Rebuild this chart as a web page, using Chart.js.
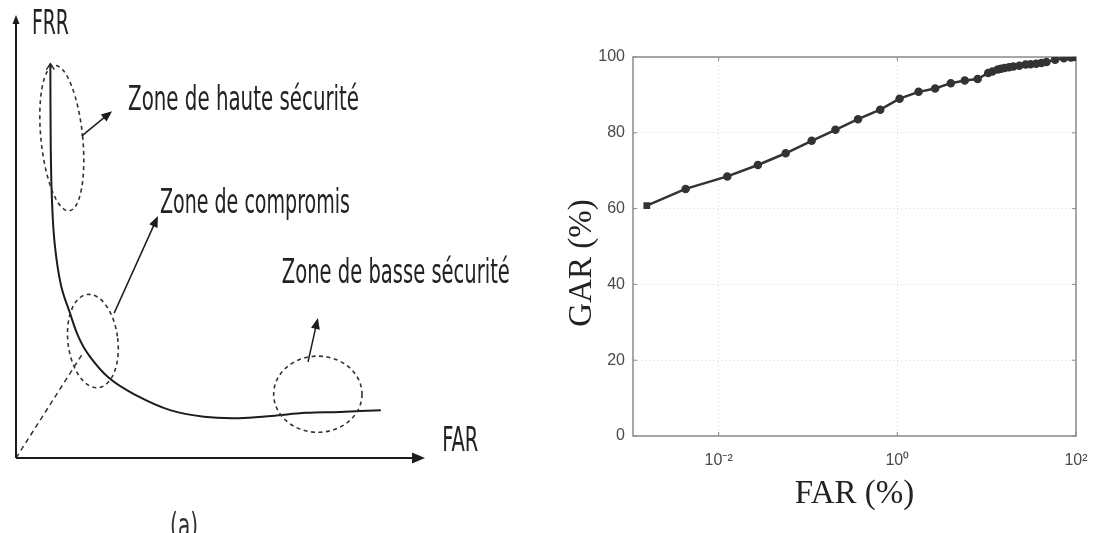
<!DOCTYPE html>
<html lang="fr">
<head>
<meta charset="UTF-8">
<title>FRR / FAR - GAR</title>
<style>
  body { margin: 0; background: #fff; width: 1097px; height: 533px; overflow: hidden; position: relative; }
  #schema { position: absolute; left: 0; top: 0; }
  #roc { position: absolute; left: 540px; top: 0; }
</style>
</head>
<body>
<canvas id="schema" width="540" height="533"></canvas>
<canvas id="roc" width="557" height="533"></canvas>

<script src="https://cdn.jsdelivr.net/npm/chart.js"></script>
<script>
// (a) schéma FRR en fonction du FAR, unités arbitraires 0..100
const curveFar = [8.4, 8.5, 8.8, 9.5, 11, 13.2, 15.2, 17.6, 22.7, 29.3, 37.7, 46, 54.3, 62.6, 70.9, 79.2, 89.2];
const curveFrr = [89, 70, 58, 48, 39, 32.7, 27.5, 23.5, 18.1, 14.2, 10.8, 9.3, 9.0, 9.5, 10.2, 10.4, 10.8];
const diagFar = [0, 16.1];
const diagFrr = [0, 23.3];

// zones : ellipse pointillée, flèche et libellé (mêmes unités)
const zoneNames = ['Zone de haute sécurité', 'Zone de compromis', 'Zone de basse sécurité'];
const zoneCenter = [[11.2, 72.2], [18.8, 26.4], [73.8, 14.4]];
const zoneRadius = [[5.1, 16.5], [6.1, 10.6], [10.8, 8.6]];
const zoneArrowFrom = [[16.1, 72.7], [24.0, 32.7], [71.4, 21.7]];
const zoneArrowTo = [[23.5, 78.3], [34.7, 54.6], [73.8, 31.6]];
const zoneLabelAt = [[27.4, 80.6], [35.2, 57.3], [65.0, 41.5]];

// (b) courbe GAR / FAR (%)
const farPct = [0.00157, 0.00427, 0.0125, 0.0275, 0.0563, 0.110, 0.203, 0.363, 0.644, 1.06, 1.73, 2.65,
                3.97, 5.69, 7.93, 10.4, 11.6, 13.3, 14.5, 15.9, 17.8, 19.9, 23.2, 27.3, 31.0, 35.7,
                41.0, 46.7, 58.4, 73.1, 87.5, 93.0, 100];
const garPct = [60.8, 65.2, 68.5, 71.5, 74.6, 77.9, 80.8, 83.6, 86.1, 89.0, 90.8, 91.7,
                93.1, 93.8, 94.2, 95.8, 96.2, 96.7, 96.9, 97.1, 97.3, 97.5, 97.7, 98.0, 98.1, 98.2,
                98.4, 98.7, 99.3, 99.7, 99.9, 100, 100];
const garTicks = [0, 20, 40, 60, 80, 100];
const farTicks = [0.01, 1, 100];
const farTickLabels = ['10⁻²', '10⁰', '10²'];

const ink = '#1c1c1c';
const handFont = '"DejaVu Sans Condensed", "DejaVu Sans", sans-serif';

function arrowHead(ctx, x, y, ang, len, half) {
    const c = Math.cos(ang), s = Math.sin(ang);
    ctx.beginPath();
    ctx.moveTo(x, y);
    ctx.lineTo(x - len * c + half * s, y - len * s - half * c);
    ctx.lineTo(x - len * c - half * s, y - len * s + half * c);
    ctx.closePath();
    ctx.fill();
}

const schemaDecor = {
    id: 'schemaDecor',
    afterDraw(chart) {
        const { ctx, scales: { x, y } } = chart;
        const px = v => x.getPixelForValue(v);
        const py = v => y.getPixelForValue(v);
        ctx.save();
        ctx.strokeStyle = ink;
        ctx.fillStyle = ink;

        // axes avec flèches
        ctx.lineWidth = 2;
        ctx.beginPath();
        ctx.moveTo(px(0), py(0));
        ctx.lineTo(px(100) - 8, py(0));
        ctx.moveTo(px(0), py(0));
        ctx.lineTo(px(0), py(100) + 6);
        ctx.stroke();
        arrowHead(ctx, px(100), py(0), 0, 13, 5.5);
        arrowHead(ctx, px(0), py(100), -Math.PI / 2, 9, 3.5);

        // petite pointe en haut de la courbe
        ctx.lineWidth = 1.3;
        ctx.beginPath();
        ctx.moveTo(px(curveFar[0]) - 4, py(curveFrr[0]) + 6);
        ctx.lineTo(px(curveFar[0]), py(curveFrr[0]));
        ctx.lineTo(px(curveFar[0]) + 4, py(curveFrr[0]) + 6);
        ctx.stroke();

        // ellipses pointillées
        ctx.lineWidth = 1.6;
        ctx.strokeStyle = '#333';
        ctx.setLineDash([4, 3.5]);
        const tilt = [-0.1, -0.12, 0];
        zoneCenter.forEach((c, i) => {
            const rx = px(c[0] + zoneRadius[i][0]) - px(c[0]);
            const ry = py(c[1]) - py(c[1] + zoneRadius[i][1]);
            ctx.beginPath();
            ctx.ellipse(px(c[0]), py(c[1]), rx, ry, tilt[i], 0, Math.PI * 2);
            ctx.stroke();
        });
        ctx.setLineDash([]);

        // flèches vers les libellés
        ctx.strokeStyle = ink;
        ctx.lineWidth = 1.5;
        zoneArrowFrom.forEach((f, i) => {
            const t = zoneArrowTo[i];
            const x0 = px(f[0]), y0 = py(f[1]), x1 = px(t[0]), y1 = py(t[1]);
            const ang = Math.atan2(y1 - y0, x1 - x0);
            ctx.beginPath();
            ctx.moveTo(x0, y0);
            ctx.lineTo(x1 - 6 * Math.cos(ang), y1 - 6 * Math.sin(ang));
            ctx.stroke();
            arrowHead(ctx, x1, y1, ang, 11, 4.5);
        });

        // textes
        ctx.fillStyle = '#222';
        ctx.textBaseline = 'middle';
        ctx.textAlign = 'left';
        ctx.font = '33px ' + handFont;
        const widths = [231, 190, 228];
        zoneNames.forEach((name, i) => {
            ctx.fillText(name, px(zoneLabelAt[i][0]), py(zoneLabelAt[i][1]), widths[i]);
        });
        ctx.fillText('FRR', px(3.9), py(97.7), 37);
        ctx.fillText('FAR', px(104.2), py(3.6), 36);
        ctx.textAlign = 'center';
        ctx.textBaseline = 'alphabetic';
        ctx.fillStyle = '#333';
        ctx.fillText('(a)', px(41.1), py(-17.8), 28);
        ctx.restore();
    }
};

new Chart(document.getElementById('schema'), {
    type: 'scatter',
    data: {
        datasets: [{
            data: curveFar.map((v, i) => ({ x: v, y: curveFrr[i] })),
            showLine: true,
            tension: 0.4,
            borderColor: ink,
            borderWidth: 2,
            pointRadius: 0
        }, {
            data: diagFar.map((v, i) => ({ x: v, y: diagFrr[i] })),
            showLine: true,
            borderColor: '#333',
            borderWidth: 1.5,
            borderDash: [5, 4],
            pointRadius: 0
        }]
    },
    options: {
        responsive: false,
        animation: false,
        events: [],
        layout: { padding: { left: 16, right: 115, top: 15, bottom: 75 } },
        plugins: { legend: { display: false }, tooltip: { enabled: false } },
        scales: {
            x: { type: 'linear', min: 0, max: 100, display: false },
            y: { type: 'linear', min: 0, max: 100, display: false }
        }
    },
    plugins: [schemaDecor]
});

// cadre et graduations intérieures façon MATLAB
const matlabBox = {
    id: 'matlabBox',
    beforeDatasetsDraw(chart) {
        const { ctx, chartArea: a, scales: { x, y } } = chart;
        ctx.save();
        ctx.strokeStyle = '#8a8a8a';
        ctx.lineWidth = 1.5;
        ctx.strokeRect(a.left, a.top, a.right - a.left, a.bottom - a.top);
        ctx.lineWidth = 1;
        ctx.beginPath();
        garTicks.forEach(v => {
            const p = y.getPixelForValue(v);
            ctx.moveTo(a.left, p); ctx.lineTo(a.left + 4, p);
            ctx.moveTo(a.right, p); ctx.lineTo(a.right - 4, p);
        });
        farTicks.forEach(v => {
            const p = x.getPixelForValue(v);
            ctx.moveTo(p, a.bottom); ctx.lineTo(p, a.bottom - 4);
            ctx.moveTo(p, a.top); ctx.lineTo(p, a.top + 4);
        });
        ctx.stroke();
        ctx.restore();
    }
};

const tickFont = { family: '"Liberation Sans", Arial, sans-serif', size: 16 };
const titleFont = { family: '"Liberation Serif", "Times New Roman", serif', size: 33 };

new Chart(document.getElementById('roc'), {
    type: 'scatter',
    data: {
        datasets: [{
            data: farPct.map((v, i) => ({ x: v, y: garPct[i] })),
            showLine: true,
            borderColor: '#333',
            borderWidth: 2.5,
            pointRadius: 3,
            pointStyle: farPct.map((v, i) => i === 0 ? 'rect' : 'circle'),
            pointBackgroundColor: '#333',
            pointBorderColor: '#333'
        }]
    },
    options: {
        responsive: false,
        animation: false,
        events: [],
        layout: { padding: { left: 0, right: 21, top: 57, bottom: 0 } },
        plugins: { legend: { display: false }, tooltip: { enabled: false } },
        scales: {
            x: {
                type: 'logarithmic',
                min: 0.0011,
                max: 100,
                afterBuildTicks: s => { s.ticks = farTicks.map(v => ({ value: v })); },
                afterFit: s => { s.height = 97; s.paddingLeft = 0; s.paddingRight = 0; },
                ticks: {
                    callback: (v, i) => farTickLabels[i],
                    autoSkip: false,
                    maxRotation: 0,
                    color: '#4a4a4a',
                    font: tickFont,
                    padding: 15
                },
                grid: { color: '#dadada', drawTicks: false },
                border: { display: false, dash: [1, 3] },
                title: { display: true, text: 'FAR (%)', color: '#222', font: titleFont, padding: { top: 0, bottom: 19 } }
            },
            y: {
                min: 0,
                max: 100,
                afterBuildTicks: s => { s.ticks = garTicks.map(v => ({ value: v })); },
                afterFit: s => { s.width = 93; s.paddingTop = 0; s.paddingBottom = 0; },
                ticks: { color: '#4a4a4a', font: tickFont, padding: 8 },
                grid: { color: '#dadada', drawTicks: false },
                border: { display: false, dash: [1, 3] },
                title: { display: true, text: 'GAR (%)    ', color: '#222', font: titleFont, padding: { top: 23, bottom: 0 } }
            }
        }
    },
    plugins: [matlabBox]
});
</script>
</body>
</html>
